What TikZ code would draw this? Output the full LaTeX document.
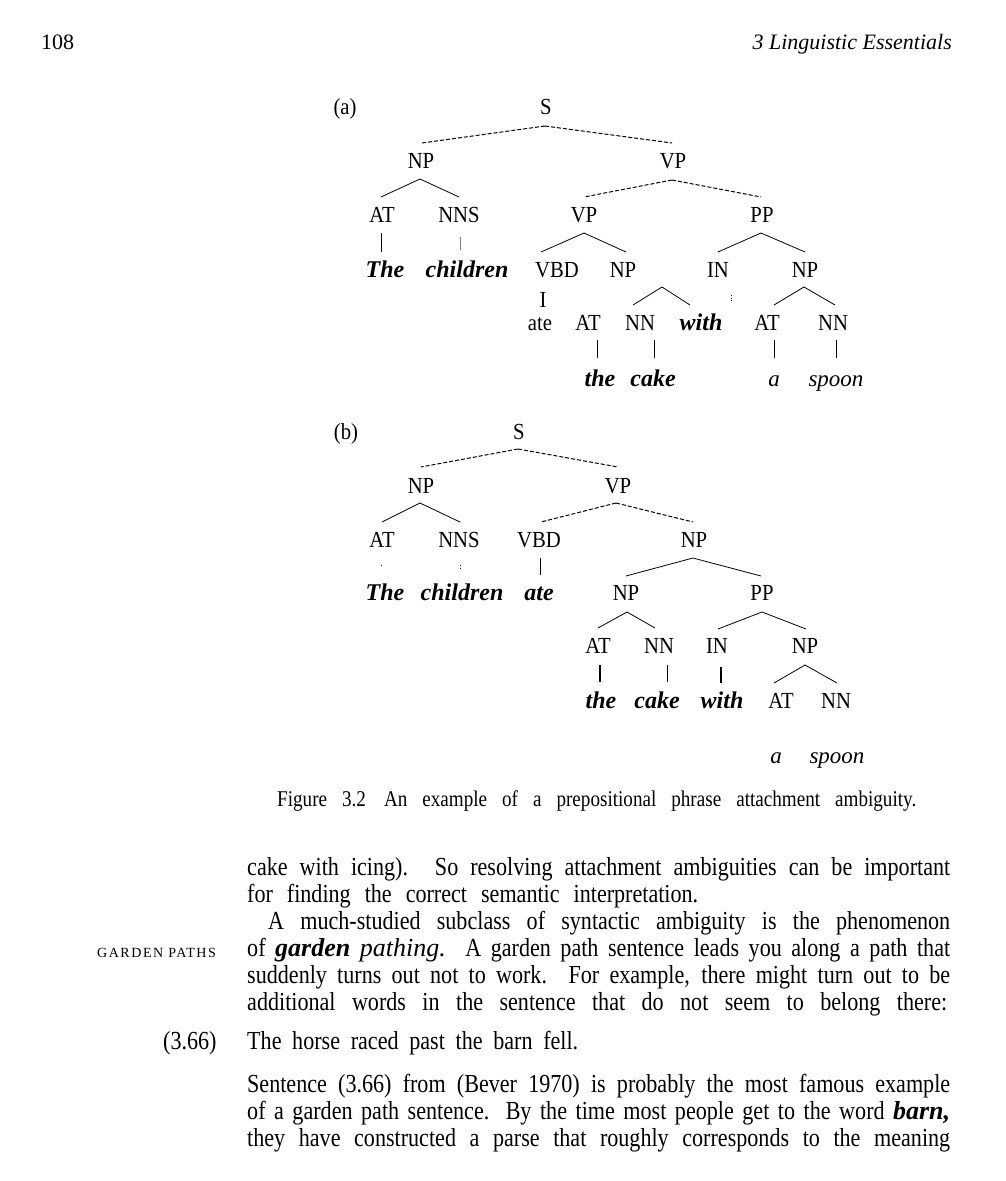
\documentclass[tikz,border=0pt]{standalone}
\usepackage{fontspec}
\setmainfont{Liberation Serif}[FakeStretch=0.9]
\newfontfamily\widefont{Liberation Serif}
\newfontfamily\bodyfont{Liberation Serif}[FakeStretch=0.85]
\newfontfamily\capsfont{Liberation Serif}[LetterSpace=11]
\tikzset{
  lab/.style={anchor=base, inner sep=0pt, font=\fontsize{23}{23}\selectfont},
  leafbi/.style={anchor=base, inner sep=0pt, font=\widefont\fontsize{24}{24}\selectfont\bfseries\itshape},
  leafit/.style={anchor=base, inner sep=0pt, font=\widefont\fontsize{23}{23}\selectfont\itshape},
  body/.style={anchor=base west, inner sep=0pt, font=\bodyfont\fontsize{26}{27}\selectfont},
  tline/.style={line width=0.8pt},
  tdash/.style={line width=1pt, dash pattern=on 4pt off 2pt},
  tthin/.style={line width=0.5pt, gray},
  tthick/.style={line width=1.4pt},
  tdot/.style={line width=0.8pt, dash pattern=on 1pt off 1.5pt},
}
\begin{document}
\begin{tikzpicture}[x=1pt,y=-1pt]
\fill[white] (0,0) rectangle (1006,1181);
\useasboundingbox (0,0) rectangle (1006,1181);

% header
\node[anchor=base west, inner sep=0pt, font=\widefont\fontsize{22}{22}\selectfont] (pg) at (41,49) {108};
\node[anchor=base east, inner sep=0pt, font=\widefont\itshape\fontsize{22}{22}\selectfont] (hd) at (952,49) {3 Linguistic Essentials};

% ---------------- tree (a)
\node[lab] (alab) at (345,114) {(a)};
\node[lab] (aS) at (546,114) {S};
\node[lab] (aNP) at (421,168) {NP};
\node[lab] (aVP) at (673,168) {VP};
\node[lab] (aAT) at (382,222) {AT};
\node[lab] (aNNS) at (459,222) {NNS};
\node[lab] (aVPb) at (584,222) {VP};
\node[lab] (aPP) at (762,222) {PP};
\node[leafbi] (aThe) at (385,277) {The};
\node[leafbi] (aChildren) at (467,277) {children};
\node[lab] (aVBD) at (557,277) {VBD};
\node[lab] (aNPb) at (623,277) {NP};
\node[lab] (aIN) at (718,277) {IN};
\node[lab] (aNPc) at (805,277) {NP};
\node[lab] (aI) at (543,307) {I};
\node[lab] (aAte) at (540,330) {ate};
\node[lab] (aATb) at (588,330) {AT};
\node[lab] (aNN) at (640,330) {NN};
\node[leafbi] (aWith) at (701,330) {with};
\node[lab] (aATc) at (767,330) {AT};
\node[lab] (aNNb) at (833,330) {NN};
\node[leafbi] (athe) at (600,386) {the};
\node[leafbi] (acake) at (653,386) {cake};
\node[leafit] (aa) at (774,386) {a};
\node[leafit] (aspoon) at (836,386) {spoon};

\draw[tdash] ([xshift=-1pt,yshift=-12pt]aS.base) -- ([xshift=1pt,yshift=25pt]aNP.base);
\draw[tdash] ([xshift=-1pt,yshift=-12pt]aS.base) -- ([xshift=-1pt,yshift=25pt]aVP.base);
\draw[tline] ([xshift=-1pt,yshift=-11pt]aNP.base) -- ([xshift=-1pt,yshift=25pt]aAT.base);
\draw[tline] ([xshift=-1pt,yshift=-11pt]aNP.base) -- ([xshift=0pt,yshift=25pt]aNNS.base);
\draw[tdash] ([xshift=-1pt,yshift=-12pt]aVP.base) -- ([xshift=0pt,yshift=25pt]aVPb.base);
\draw[tdash] ([xshift=-1pt,yshift=-12pt]aVP.base) -- ([xshift=-1pt,yshift=25pt]aPP.base);
\draw[tline] ([xshift=-1pt,yshift=-11pt]aAT.base) -- ([xshift=-4pt,yshift=25pt]aThe.base);
\draw[tthin] ([xshift=1pt,yshift=-15pt]aNNS.base) -- ([xshift=-7pt,yshift=27pt]aChildren.base);
\draw[tline] ([xshift=0pt,yshift=-11pt]aVPb.base) -- ([xshift=-16pt,yshift=25pt]aVBD.base);
\draw[tline] ([xshift=0pt,yshift=-11pt]aVPb.base) -- ([xshift=3pt,yshift=25pt]aNPb.base);
\draw[tline] ([xshift=-1pt,yshift=-11pt]aPP.base) -- ([xshift=0pt,yshift=25pt]aIN.base);
\draw[tline] ([xshift=-1pt,yshift=-11pt]aPP.base) -- ([xshift=0pt,yshift=25pt]aNPc.base);
\draw[tdot] ([xshift=13pt,yshift=-18pt]aIN.base) -- ([xshift=30pt,yshift=28pt]aWith.base);
\draw[tline] ([xshift=39pt,yshift=-10pt]aNPb.base) -- ([xshift=45pt,yshift=25pt]aATb.base);
\draw[tline] ([xshift=39pt,yshift=-10pt]aNPb.base) -- ([xshift=50pt,yshift=25pt]aNN.base);
\draw[tline] ([xshift=-1pt,yshift=-10pt]aNPc.base) -- ([xshift=7pt,yshift=25pt]aATc.base);
\draw[tline] ([xshift=-1pt,yshift=-10pt]aNPc.base) -- ([xshift=2pt,yshift=25pt]aNNb.base);
\draw[tline] ([xshift=9pt,yshift=-10pt]aATb.base) -- ([xshift=-3pt,yshift=28pt]athe.base);
\draw[tline] ([xshift=14pt,yshift=-10pt]aNN.base) -- ([xshift=1pt,yshift=28pt]acake.base);
\draw[tline] ([xshift=7pt,yshift=-10pt]aATc.base) -- ([xshift=0pt,yshift=28pt]aa.base);
\draw[tline] ([xshift=3pt,yshift=-10pt]aNNb.base) -- ([xshift=0pt,yshift=28pt]aspoon.base);

% ---------------- tree (b)
\node[lab] (blab) at (346,439) {(b)};
\node[lab] (bS) at (519,439) {S};
\node[lab] (bNP) at (421,493) {NP};
\node[lab] (bVP) at (618,493) {VP};
\node[lab] (bAT) at (382,547) {AT};
\node[lab] (bNNS) at (459,547) {NNS};
\node[lab] (bVBD) at (539,547) {VBD};
\node[lab] (bNPb) at (694,547) {NP};
\node[leafbi] (bThe) at (385,600) {The};
\node[leafbi] (bChildren) at (462,600) {children};
\node[leafbi] (bAte) at (539,600) {ate};
\node[lab] (bNPc) at (626,600) {NP};
\node[lab] (bPP) at (762,600) {PP};
\node[lab] (bATb) at (598,653) {AT};
\node[lab] (bNN) at (659,653) {NN};
\node[lab] (bIN) at (717,653) {IN};
\node[lab] (bNPd) at (805,653) {NP};
\node[leafbi] (bthe) at (601,708) {the};
\node[leafbi] (bcake) at (657,708) {cake};
\node[leafbi] (bwith) at (722,708) {with};
\node[lab] (bATc) at (781,708) {AT};
\node[lab] (bNNb) at (836,708) {NN};
\node[leafit] (ba) at (776,763) {a};
\node[leafit] (bspoon) at (837,763) {spoon};

\draw[tdash] ([xshift=-1pt,yshift=-10pt]bS.base) -- ([xshift=0pt,yshift=26pt]bNP.base);
\draw[tdash] ([xshift=-1pt,yshift=-10pt]bS.base) -- ([xshift=0pt,yshift=26pt]bVP.base);
\draw[tline] ([xshift=-1pt,yshift=-10pt]bNP.base) -- ([xshift=0pt,yshift=25pt]bAT.base);
\draw[tline] ([xshift=-1pt,yshift=-10pt]bNP.base) -- ([xshift=1pt,yshift=25pt]bNNS.base);
\draw[tdash] ([xshift=-2pt,yshift=-10pt]bVP.base) -- ([xshift=2pt,yshift=25pt]bVBD.base);
\draw[tdash] ([xshift=-2pt,yshift=-10pt]bVP.base) -- ([xshift=-1pt,yshift=25pt]bNPb.base);
\draw[tline] ([xshift=-1pt,yshift=-17.5pt]bAT.base) -- ([xshift=-4pt,yshift=34pt]bThe.base);
\draw[tdot] ([xshift=1pt,yshift=-18pt]bNNS.base) -- ([xshift=-2pt,yshift=30pt]bChildren.base);
\draw[tline] ([xshift=1pt,yshift=-11pt]bVBD.base) -- ([xshift=1pt,yshift=25pt]bAte.base);
\draw[tline] ([xshift=-1pt,yshift=-11pt]bNPb.base) -- ([xshift=0pt,yshift=24pt]bNPc.base);
\draw[tline] ([xshift=-1pt,yshift=-11pt]bNPb.base) -- ([xshift=-1pt,yshift=24pt]bPP.base);
\draw[tline] ([xshift=1pt,yshift=-12pt]bNPc.base) -- ([xshift=0pt,yshift=25pt]bATb.base);
\draw[tline] ([xshift=1pt,yshift=-12pt]bNPc.base) -- ([xshift=-4pt,yshift=25pt]bNN.base);
\draw[tline] ([xshift=0pt,yshift=-12pt]bPP.base) -- ([xshift=1pt,yshift=24pt]bIN.base);
\draw[tline] ([xshift=0pt,yshift=-12pt]bPP.base) -- ([xshift=1pt,yshift=24pt]bNPd.base);
\draw[tthick] ([xshift=2pt,yshift=-12pt]bATb.base) -- ([xshift=-1pt,yshift=26pt]bthe.base);
\draw[tline] ([xshift=8pt,yshift=-12pt]bNN.base) -- ([xshift=10pt,yshift=26pt]bcake.base);
\draw[tthick] ([xshift=4pt,yshift=-14pt]bIN.base) -- ([xshift=-1pt,yshift=25pt]bwith.base);
\draw[tline] ([xshift=0pt,yshift=-12pt]bNPd.base) -- ([xshift=-7pt,yshift=25pt]bATc.base);
\draw[tline] ([xshift=0pt,yshift=-12pt]bNPd.base) -- ([xshift=1pt,yshift=25pt]bNNb.base);

% caption
\node[anchor=base west, inner sep=0pt, font=\bodyfont\fontsize{22.5}{22.5}\selectfont] (cap) at (277,806)
  {\hbox to 639pt{Figure 3.2\hskip 18pt An example of a prepositional phrase attachment ambiguity.}};

% body text
\node[body] (l1) at (247,875) {\hbox to 703pt{cake with icing). So resolving attachment ambiguities can be important}};
\node[body] (l2) at (247,902) {\hbox to 451pt{for finding the correct semantic interpretation.}};
\node[body] (l3) at (268,929) {\hbox to 682pt{A much-studied subclass of syntactic ambiguity is the phenomenon}};
\node[anchor=base west, inner sep=0pt, font=\capsfont\fontsize{14}{14}\selectfont] (mnote) at (97,957) {GARDEN PATHS};
\node[body] (l4) at (247,956) {\hbox to 703pt{of {\widefont\bfseries\itshape garden} {\widefont\itshape pathing.} A garden path sentence leads you along a path that}};
\node[body] (l5) at (247,983) {\hbox to 703pt{suddenly turns out not to work. For example, there might turn out to be}};
\node[body] (l6) at (247,1010) {\hbox to 700pt{additional words in the sentence that do not seem to belong there:}};
\node[body] (exnum) at (163,1049) {(3.66)};
\node[body] (ex) at (247,1049) {\hbox to 331pt{The horse raced past the barn fell.}};
\node[body] (l7) at (247,1092) {\hbox to 703pt{Sentence (3.66) from (Bever 1970) is probably the most famous example}};
\node[body] (l8) at (247,1119) {\hbox to 703pt{of a garden path sentence. By the time most people get to the word {\widefont\bfseries\itshape barn,}}};
\node[body] (l9) at (247,1146) {\hbox to 703pt{they have constructed a parse that roughly corresponds to the meaning}};
\end{tikzpicture}
\end{document}
